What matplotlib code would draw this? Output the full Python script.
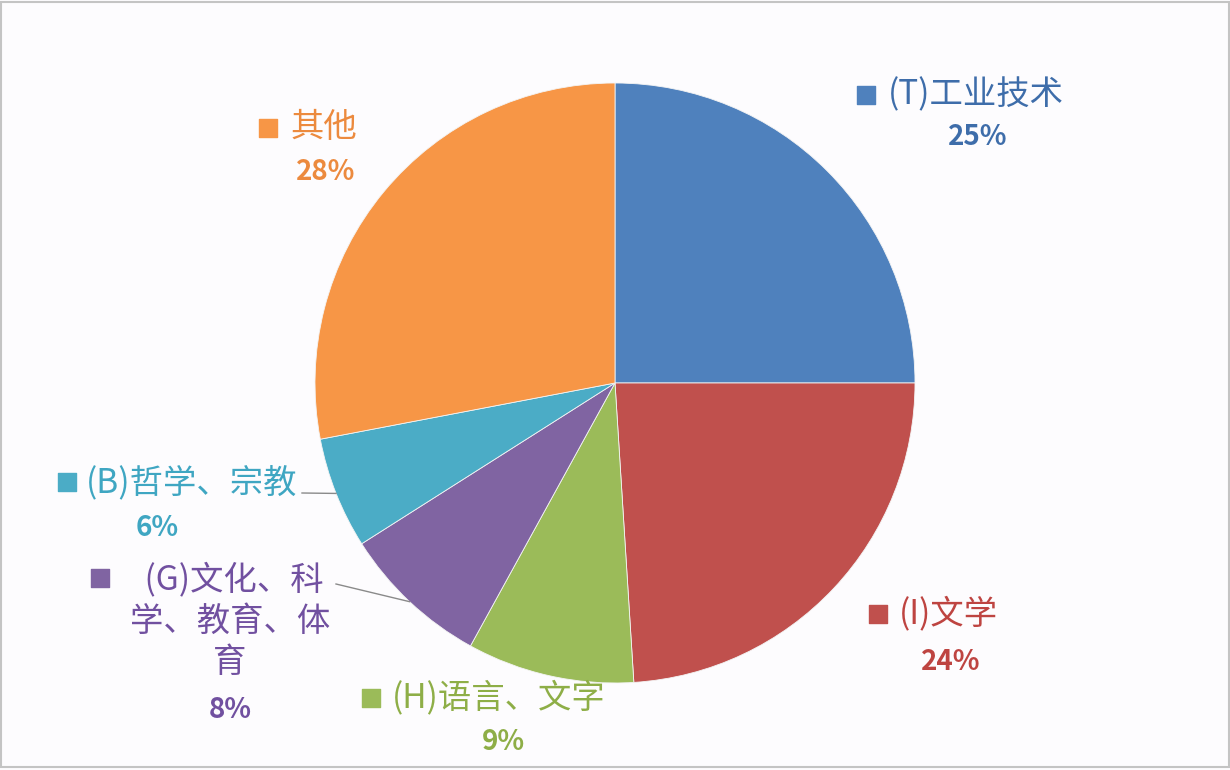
import numpy as np
import matplotlib.pyplot as plt
from matplotlib.patches import Rectangle

plt.rcParams['font.family'] = ['Noto Sans CJK SC', 'DejaVu Sans']

# data
categories = ['(T)工业技术', '(I)文学', '(H)语言、文字', '(G)文化、科\n学、教育、体\n育', '(B)哲学、宗教', '其他']
shares     = [25, 24, 9, 8, 6, 28]
pct_labels = ['25%', '24%', '9%', '8%', '6%', '28%']

colors      = ['#4F81BD', '#C0504D', '#9BBB59', '#8064A2', '#4BACC6', '#F79646']
text_colors = ['#3E6DAA', '#BE4441', '#8EAE47', '#7150A0', '#3FA6C2', '#EC8A3E']

W, H = 1230, 770
fig = plt.figure(figsize=(12.3, 7.7), dpi=100)
fig.patch.set_facecolor('#fdfcfe')
ax = fig.add_axes([0, 0, 1, 1])

def Y(y):
    # image row -> data y
    return H - y

cx, cy, R = 615, Y(383), 300
wedges, _ = ax.pie(shares, colors=colors, startangle=90, counterclock=False,
                   center=(cx, cy), radius=R, frame=True,
                   wedgeprops=dict(edgecolor='#f4f4f4', linewidth=0.6))
ax.set_xlim(0, W)
ax.set_ylim(0, H)
ax.set_aspect('equal')
ax.axis('off')

# label layout: square, name text, percent text
square_pos = [(866, 95), (878, 614), (371, 698), (100, 578), (67, 482), (268, 128)]
name_pos   = [(888, 95), (899, 614), (392, 698), (230, 621), (86, 484), (291, 128)]
name_ha    = ['left', 'left', 'left', 'center', 'left', 'left']
pct_pos    = [(978, 137), (951, 662), (503, 742), (230, 710), (157, 528), (326, 172)]

for i, w in enumerate(wedges):
    sx, sy = square_pos[i]
    ax.scatter([sx], [Y(sy)], marker='s', s=150, color=colors[i], zorder=5)
    nx, ny = name_pos[i]
    txt = categories[i]
    if i == 3:
        txt = ' ' + txt
    ax.text(nx, Y(ny), txt, ha=name_ha[i], va='center', fontsize=24,
            color=text_colors[i], linespacing=1.24)
    px, py = pct_pos[i]
    ax.text(px, Y(py), pct_labels[i], ha='center', va='center', fontsize=20,
            fontweight='bold', color=text_colors[i])

# leader lines for the two small slices
leader_start = {4: (302, 493), 3: (336, 584)}
for i, (lx, ly) in leader_start.items():
    w = wedges[i]
    mid = np.deg2rad((w.theta1 + w.theta2) / 2)
    ex, ey = cx + R * np.cos(mid), cy + R * np.sin(mid)
    ax.plot([lx, ex], [Y(ly), ey], color='#8a8a8a', lw=1.0, zorder=1)

fig.add_artist(Rectangle((0.001, 0.004), 0.998, 0.994, transform=fig.transFigure,
                         fill=False, edgecolor='#c4c4c4', lw=1.5))

fig.savefig('out.png', dpi=100, facecolor=fig.get_facecolor())
